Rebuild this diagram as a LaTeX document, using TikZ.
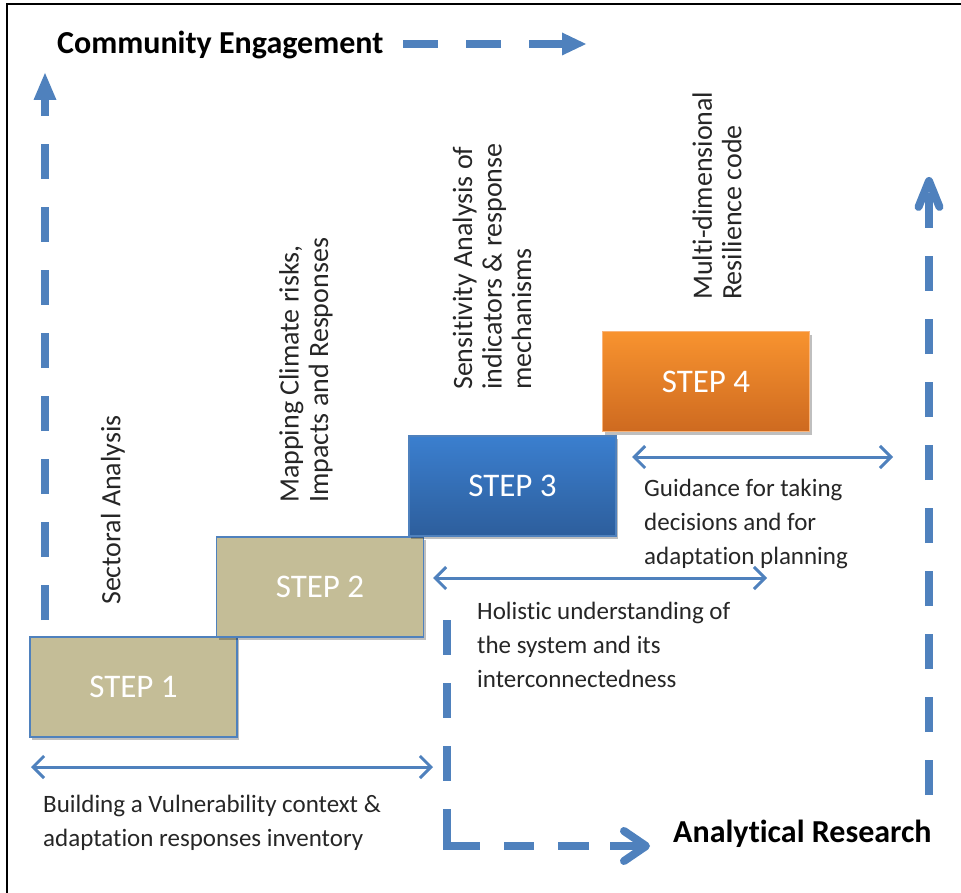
\documentclass[tikz,border=0pt]{standalone}
\usepackage{fontspec}
\setmainfont[Ligatures=NoCommon,RawFeature={-liga;-clig;-dlig}]{Carlito}
\usetikzlibrary{arrows.meta,shadows}
\definecolor{abl}{HTML}{4F81BD}
\definecolor{tanfill}{HTML}{C4BD97}
\definecolor{txt}{HTML}{262626}
\definecolor{bluetop}{HTML}{3B7FCF}
\definecolor{bluebot}{HTML}{2D5E9C}
\definecolor{orgtop}{HTML}{F8932F}
\definecolor{orgbot}{HTML}{CE6A20}
\definecolor{orgline}{HTML}{F9B47A}
\begin{document}
\begin{tikzpicture}[x=1pt,y=-1pt,
  stepbox/.style={draw=abl, line width=1.2pt, minimum width=207pt, minimum height=100pt,
    text=white, font=\fontsize{33}{36}\selectfont, inner sep=0pt,
    drop shadow={shadow xshift=2pt,shadow yshift=-3pt,opacity=0.25,fill=black}},
  body/.style={font=\fontsize{25}{34}\selectfont, text=txt, align=left, inner sep=0pt, anchor=north west},
  vtext/.style={font=\fontsize{28}{29.5}\selectfont, text=txt, align=left, inner sep=0pt, rotate=90, anchor=west},
  titletext/.style={font=\bfseries\fontsize{32}{36}\selectfont, inner sep=0pt, anchor=base west},
  dashline/.style={draw=abl, line width=8pt, dash pattern=on 35pt off 28pt},
  twoway/.style={draw=abl, line width=3pt,
    {Straight Barb[length=11pt,width=22pt]}-{Straight Barb[length=11pt,width=22pt]}}
]
\useasboundingbox (0,0) rectangle (961,893);
% frame
\draw[line width=2pt] (7,893) -- (7,4) -- (961,4);

% titles
\node[titletext] (ce) at (57,54) {Community Engagement};
\node[titletext] (ar) at (673,842) {Analytical Research};

% coordinates for dashed arrows
\coordinate (ceS) at (403,44);
\coordinate (ceE) at (586,44);
\coordinate (lvS) at (45,620);
\coordinate (lvE) at (45,73);
\coordinate (rvS) at (929,795);
\coordinate (rvE) at (929,177);
\coordinate (arS) at (447,620);
\coordinate (arC) at (447,846);
\coordinate (arE) at (650,846);

\draw[dashline, -{Triangle[length=24pt,width=23pt,line width=0pt]}] (ceS) -- (ceE);
\draw[dashline, -{Triangle[length=27pt,width=23pt,line width=0pt]}] (lvS) -- (lvE);
\draw[dashline, -{Straight Barb[length=26pt,width=21pt,line width=8pt,round]}] (rvS) -- (rvE);
\draw[dashline, dash pattern=on 35pt off 28pt on 35pt off 28pt on 35pt off 28pt on 70pt off 24pt on 30pt off 24pt on 31pt off 21pt on 80pt,
  -{Straight Barb[length=22pt,width=30pt,line width=8pt,round]}] (arS) -- (arC) -- (arE);

% steps
\node[stepbox, fill=tanfill] (s1) at (133.5,687) {STEP 1};
\node[stepbox, fill=tanfill] (s2) at (320,587) {STEP 2};
\node[stepbox, top color=bluetop, bottom color=bluebot] (s3) at (512.5,486) {STEP 3};
\node[stepbox, draw=orgline, top color=orgtop, bottom color=orgbot] (s4) at (706,381.5) {STEP 4};

% two-way arrows
\coordinate (a1L) at (31,767);
\coordinate (a1R) at (433,767);
\coordinate (a2L) at (433,578);
\coordinate (a2R) at (767,578);
\coordinate (a3L) at (632,457);
\coordinate (a3R) at (893,457);
\draw[twoway] (a1L) -- (a1R);
\draw[twoway] (a2L) -- (a2R);
\draw[twoway] (a3L) -- (a3R);

% horizontal texts
\node[body] (t1) at (43,795) {Building a Vulnerability context \&\\adaptation responses inventory};
\node[body] (t2) at (477,602) {Holistic understanding of\\the system and its\\interconnectedness};
\node[body] (t3) at (644,479) {Guidance for taking\\decisions and for\\adaptation planning};

% rotated texts
\node[vtext] (v1) at (113,605) {Sectoral Analysis};
\node[vtext] (v2) at (306,503) {Mapping Climate risks,\\Impacts and Responses};
\node[vtext] (v3) at (492,390) {Sensitivity Analysis of\\indicators \& response\\mechanisms};
\node[vtext] (v4) at (717,300) {Multi-dimensional\\Resilience code};
\end{tikzpicture}
\end{document}
